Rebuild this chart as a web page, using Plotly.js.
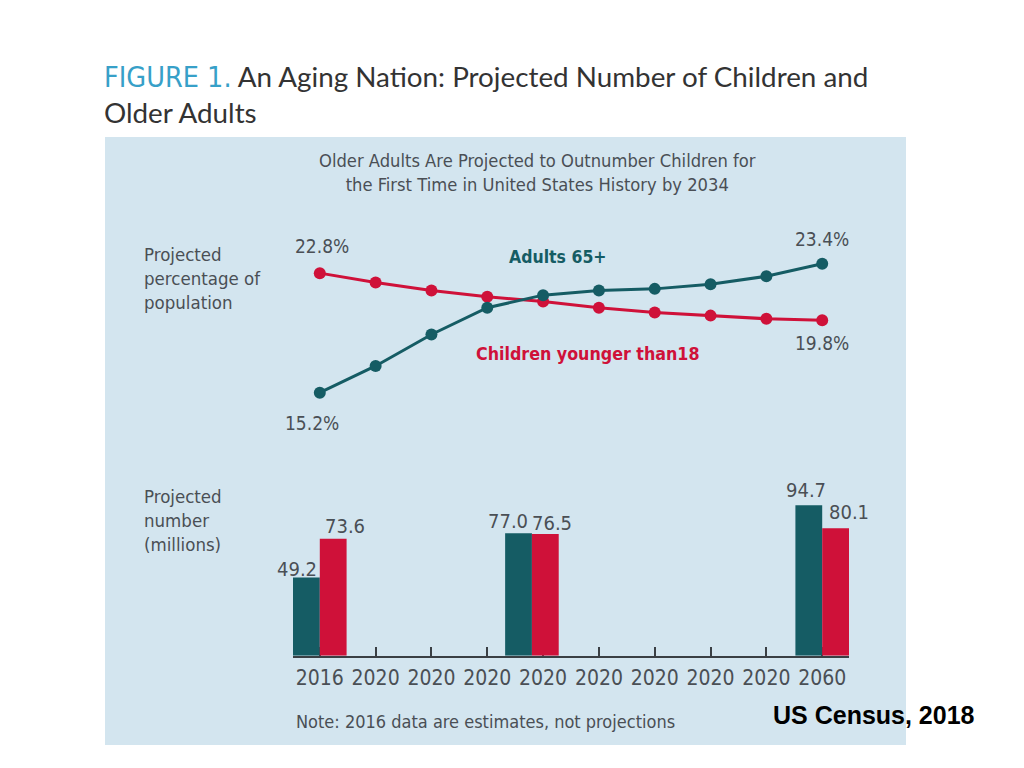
<!DOCTYPE html>
<html>
<head>
<meta charset="utf-8">
<script src="https://cdn.plot.ly/plotly-3.0.1.min.js"></script>
<style>html,body{margin:0;padding:0;background:#fff;}#chart{width:1024px;height:768px;}</style>
</head>
<body>
<div id="chart"></div>
<script>
// ---------- data ----------
const lineYears = [2016, 2020, 2025, 2030, 2035, 2040, 2045, 2050, 2055, 2060];
const tickLabels = ['2016', '2020', '2020', '2020', '2020', '2020', '2020', '2020', '2020', '2060'];
const adultsPct = [15.2, 16.9, 18.9, 20.6, 21.4, 21.7, 21.8, 22.1, 22.6, 23.4];
const childrenPct = [22.8, 22.2, 21.7, 21.3, 21.0, 20.6, 20.3, 20.1, 19.9, 19.8];
const barYears = [2016, 2034, 2060];
const adultsMillions = [49.2, 77.0, 94.7];
const childrenMillions = [73.6, 76.5, 80.1];
const seriesNames = ['Adults 65+', 'Children younger than18'];

// ---------- style ----------
const TEAL = '#155c64';
const RED = '#cf1139';
const GREY = '#4a4f55';
const PANEL = '#d3e5ef';
const NARROW = '"DejaVu Sans Condensed", "DejaVu Sans", sans-serif';

// year -> position on the evenly spaced axis
function pos(year) {
  for (let i = 0; i < lineYears.length - 1; i++) {
    if (year >= lineYears[i] && year <= lineYears[i + 1]) {
      return i + (year - lineYears[i]) / (lineYears[i + 1] - lineYears[i]);
    }
  }
  return lineYears.length - 1;
}
const lineX = lineYears.map(pos);
const barX = barYears.map(pos);

// plot geometry (pixels)
const W = 1024, H = 768, L = 293, R = 175;
const PW = W - L - R;
const fx = px => (px - L) / PW;
const fy = py => 1 - py / H;

const BW = 0.48;
const traces = [
  {x: lineX, y: childrenPct, yaxis: 'y2', type: 'scatter', mode: 'lines+markers',
   line: {color: RED, width: 3}, marker: {color: RED, size: 12}, name: seriesNames[1], hoverinfo: 'skip'},
  {x: lineX, y: adultsPct, yaxis: 'y2', type: 'scatter', mode: 'lines+markers',
   line: {color: TEAL, width: 3}, marker: {color: TEAL, size: 12}, name: seriesNames[0], hoverinfo: 'skip'},
  {x: barX, y: adultsMillions, type: 'bar', width: BW, offset: -BW, marker: {color: TEAL}, name: seriesNames[0], hoverinfo: 'skip'},
  {x: barX, y: childrenMillions, type: 'bar', width: BW, offset: 0, marker: {color: RED}, name: seriesNames[1], hoverinfo: 'skip'}
];

const ann = [];
function txt(o) { ann.push(Object.assign({showarrow: false, font: {family: NARROW, size: 18, color: GREY}}, o)); }

// heading
ann.push({xref: 'paper', yref: 'paper', x: fx(102), y: fy(95), xanchor: 'left', yanchor: 'middle', align: 'left', showarrow: false,
  text: '<span style="color:#37a0c8;font-family:DejaVu Sans Condensed;font-size:28.5px">FIGURE 1.</span> An Aging Nation: Projected Number of Children and<br>Older Adults',
  font: {family: 'Lato, sans-serif', size: 27.8, color: '#333'}});

// subtitle
txt({xref: 'paper', yref: 'paper', x: fx(537), y: fy(173), xanchor: 'center', yanchor: 'middle',
  text: 'Older Adults Are Projected to Outnumber Children for<br>the First Time in United States History by 2034', font: {family: NARROW, size: 18.2, color: GREY}});

// left labels
txt({xref: 'paper', yref: 'paper', x: fx(142), y: fy(278), xanchor: 'left', yanchor: 'middle', align: 'left',
  text: 'Projected<br>percentage of<br>population', font: {family: NARROW, size: 18.5, color: GREY}});
txt({xref: 'paper', yref: 'paper', x: fx(142), y: fy(520), xanchor: 'left', yanchor: 'middle', align: 'left',
  text: 'Projected<br>number<br>(millions)', font: {family: NARROW, size: 18.5, color: GREY}});

// line value labels
const last = lineX.length - 1;
const pctFont = {family: NARROW, size: 19, color: GREY};
txt({x: lineX[0], y: childrenPct[0], yref: 'y2', yshift: 27, xshift: 2, text: childrenPct[0].toFixed(1) + '%', font: pctFont});
txt({x: lineX[0], y: adultsPct[0], yref: 'y2', yshift: -30, xshift: -8, text: adultsPct[0].toFixed(1) + '%', font: pctFont});
txt({x: lineX[last], y: adultsPct[last], yref: 'y2', yshift: 25, text: adultsPct[last].toFixed(1) + '%', font: pctFont});
txt({x: lineX[last], y: childrenPct[last], yref: 'y2', yshift: -23, text: childrenPct[last].toFixed(1) + '%', font: pctFont});

// series labels
txt({xref: 'paper', yref: 'paper', x: fx(558), y: fy(245), text: '<b>' + seriesNames[0] + '</b>', font: {family: NARROW, size: 17.5, color: TEAL}});
txt({xref: 'paper', yref: 'paper', x: fx(588), y: fy(354), text: '<b>' + seriesNames[1] + '</b>', font: {family: NARROW, size: 17.7, color: RED}});

// bar value labels
const barFont = {family: NARROW, size: 20, color: GREY};
const adShift = [-9, -11, -3];
const adY = [8, 12, 15];
const chShift = [12, 7, 13];
const chY = [13, 11, 16];
for (let i = 0; i < barX.length; i++) {
  txt({x: barX[i] - BW / 2, y: adultsMillions[i], xshift: adShift[i], yshift: adY[i], text: adultsMillions[i].toFixed(1), font: barFont});
  txt({x: barX[i] + BW / 2, y: childrenMillions[i], xshift: chShift[i], yshift: chY[i], text: childrenMillions[i].toFixed(1), font: barFont});
}

// note & source
txt({xref: 'paper', yref: 'paper', x: fx(294), y: fy(721), xanchor: 'left', yanchor: 'middle', text: 'Note: 2016 data are estimates, not projections', font: {family: NARROW, size: 18, color: GREY}});
ann.push({xref: 'paper', yref: 'paper', x: fx(771), y: fy(715), xanchor: 'left', yanchor: 'middle', showarrow: false,
  text: '<b>US Census, 2018</b>', font: {family: '"Liberation Sans", Arial, sans-serif', size: 25, color: '#000'}});

const layout = {
  width: W, height: H,
  margin: {l: L, r: R, t: 0, b: 0},
  paper_bgcolor: '#fff', plot_bgcolor: 'rgba(0,0,0,0)',
  showlegend: false,
  xaxis: {range: [-BW, lineX.length - 1 + BW], anchor: 'y', showgrid: false, zeroline: false,
    showline: true, linecolor: '#3a3f44', linewidth: 2,
    ticks: 'inside', ticklen: 9, tickwidth: 2, tickcolor: '#3a3f44', layer: 'below traces',
    tickmode: 'array', tickvals: lineX, ticktext: tickLabels, ticklabelstandoff: 2,
    tickfont: {family: NARROW, size: 21, color: GREY}, fixedrange: true},
  yaxis: {domain: [fy(655.7), fy(500)], range: [0, 155.7 / 1.59], visible: false, fixedrange: true},
  yaxis2: {domain: [fy(400), fy(250)], range: [15.2 - (400 - 392.7) / 15.73, 23.4 + (263.7 - 250) / 15.73],
    anchor: 'x', visible: false, fixedrange: true},
  shapes: [{type: 'rect', xref: 'paper', yref: 'paper', x0: fx(105), x1: fx(906), y0: fy(745), y1: fy(137),
    fillcolor: PANEL, line: {width: 0}, layer: 'below'}],
  annotations: ann
};

Plotly.newPlot('chart', traces, layout, {displayModeBar: false, staticPlot: true});
</script>
</body>
</html>
